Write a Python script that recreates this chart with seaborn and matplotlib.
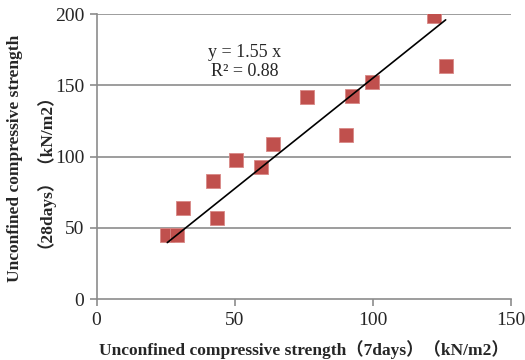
import matplotlib
matplotlib.use("Agg")
import matplotlib.pyplot as plt
import seaborn as sns
import numpy as np
import pandas as pd

# 7-day vs 28-day unconfined compressive strength (kN/m2)
strength_7d = [25.6, 29.0, 31.4, 42.3, 43.6, 50.4, 59.6, 64.0, 76.1, 90.2, 92.4, 99.9, 122.2, 126.4]
strength_28d = [45.0, 45.0, 63.6, 82.8, 57.1, 97.5, 92.4, 108.5, 142.0, 115.3, 142.5, 152.5, 198.6, 163.5]
slope = 1.55
r_squared = 0.88
x_ticks = [0, 50, 100, 150]
y_ticks = [0, 50, 100, 150, 200]
x_title = "Unconfined compressive strength（7days）（kN/m2）"
y_title_1 = "Unconfined compressive strength"
y_title_2 = "（28days）（kN/m2）"

sns.set_style("white")
plt.rcParams["font.family"] = ["Liberation Serif", "Noto Sans CJK JP", "DejaVu Sans"]

df = pd.DataFrame({"d7": strength_7d, "d28": strength_28d})

fig = plt.figure(figsize=(5.25, 3.6), dpi=100)
ax = fig.add_axes([0.184, 0.169, 0.789, 0.792])

for yv in y_ticks[1:]:
    ax.axhline(yv, color="#8c8c8c", lw=1.2, zorder=0)

sns.scatterplot(data=df, x="d7", y="d28", marker="s", s=95, color="#C0504D",
                edgecolor="#d98886", linewidth=0.6, ax=ax, zorder=3)

# Linear trend through the origin
xs = np.array([min(strength_7d), max(strength_7d)])
ax.plot(xs, slope * xs, color="black", lw=1.2, zorder=4)

ax.text(53.5, 173, f"y = {slope:.2f} x", fontsize=13, ha="center", va="center")
ax.text(53.5, 160, f"R² = {r_squared:.2f}", fontsize=13, ha="center", va="center")

ax.set_xlim(0, 150)
ax.set_ylim(0, 200)
ax.set_xticks(x_ticks)
ax.set_yticks(y_ticks)
ax.tick_params(axis="both", labelsize=14, length=5, width=1.2, color="#8c8c8c",
               direction="out", bottom=True, left=True, pad=4)

for side in ["top", "right"]:
    ax.spines[side].set_visible(False)
for side in ["left", "bottom"]:
    ax.spines[side].set_color("#8c8c8c")
    ax.spines[side].set_linewidth(1.2)

ax.set_xlabel(x_title, fontsize=12.5, fontweight="bold", labelpad=8)

# Two-line y-axis title, one text per line
ax.set_ylabel("")
fig.text(15 / 525, 1 - 158 / 360, y_title_1, rotation=90,
         fontsize=12.5, fontweight="bold", ha="center", va="center")
fig.text(36 / 525, 1 - 162 / 360, y_title_2, rotation=90,
         fontsize=12.5, fontweight="bold", ha="center", va="center")

fig.savefig("out.png", dpi=100)
